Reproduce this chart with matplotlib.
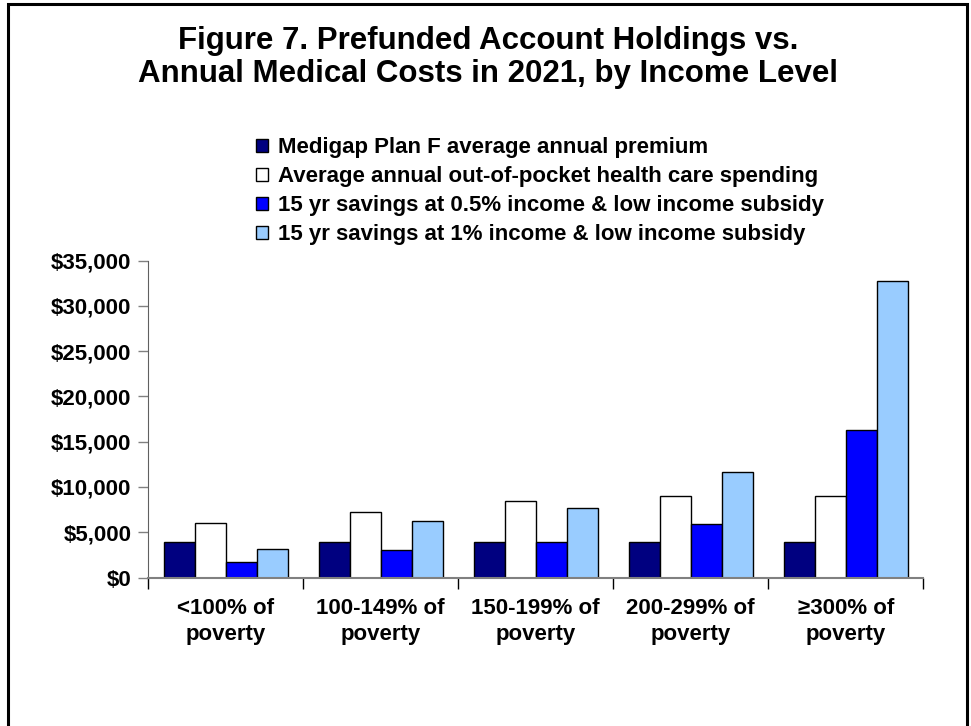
import numpy as np
import matplotlib
matplotlib.use('Agg')
import matplotlib.pyplot as plt
from matplotlib.patches import Rectangle
from matplotlib.ticker import FuncFormatter

plt.rcParams['font.family'] = ['Liberation Sans', 'DejaVu Sans']
plt.rcParams['font.weight'] = 'bold'

groups = ['<100% of\npoverty', '100-149% of\npoverty', '150-199% of\npoverty',
          '200-299% of\npoverty', '\u2265300% of\npoverty']
series = ['Medigap Plan F average annual premium',
          'Average annual out-of-pocket health care spending',
          '15 yr savings at 0.5% income & low income subsidy',
          '15 yr savings at 1% income & low income subsidy']
premium = [3900, 3900, 3900, 3900, 3900]
oop = [6070, 7250, 8470, 9020, 9020]
save_05 = [1660, 3060, 3910, 5900, 16310]
save_1 = [3170, 6230, 7730, 11640, 32730]
colors = ['#000080', '#FFFFFF', '#0000FF', '#99CCFF']

fig = plt.figure(figsize=(9.71, 7.26), dpi=100)
ax = fig.add_axes([0.1527, 0.2045, 0.7982, 0.4366])

x = np.arange(len(groups))
w = 0.2
bars = []
for k, vals in enumerate([premium, oop, save_05, save_1]):
    b = ax.bar(x - 0.3 + k * w, vals, w, color=colors[k], edgecolor='black',
               linewidth=1.0, label=series[k])
    bars.append(b)

ax.set_xlim(-0.5, len(groups) - 0.5)
ax.set_ylim(0, 35000)
ax.set_yticks(np.arange(0, 35001, 5000))
ax.yaxis.set_major_formatter(FuncFormatter(lambda v, p: '${:,.0f}'.format(v)))
# group boundaries get the tick marks, group centres get the labels
ax.set_xticks(np.arange(-0.5, len(groups), 1.0))
ax.set_xticklabels([])
ax.set_xticks(x, minor=True)
ax.set_xticklabels(groups, minor=True, fontsize=16, fontweight='bold',
                   linespacing=1.3)
ax.tick_params(axis='x', which='minor', length=0, pad=15)
ax.tick_params(axis='x', which='major', length=8, width=1, color='black', direction='out')
ax.tick_params(axis='y', length=7, width=1, color='#808080', labelsize=16, pad=5)
for lab in ax.get_yticklabels():
    lab.set_fontweight('bold')

for s in ['top', 'right']:
    ax.spines[s].set_visible(False)
ax.spines['left'].set_color('#606060')
ax.spines['bottom'].set_color('#808080')
ax.spines['bottom'].set_linewidth(1.5)

fig.text(0.503, 0.921, 'Figure 7. Prefunded Account Holdings vs.\nAnnual Medical Costs in 2021, by Income Level',
         ha='center', va='center', fontsize=22.5, fontweight='bold', linespacing=1.12)

fig.legend(handles=bars, labels=series, loc='upper left', bbox_to_anchor=(0.2523, 0.826),
           frameon=False, fontsize=16, handlelength=0.55, handleheight=0.55,
           handletextpad=0.45, labelspacing=0.36, borderpad=0)

fig.patches.append(Rectangle((8 / 971, -0.01), 959 / 971, 1 - 4 / 726 + 0.01,
                             transform=fig.transFigure, fill=False,
                             edgecolor='black', linewidth=2.2))

fig.savefig('out.png', dpi=100)
